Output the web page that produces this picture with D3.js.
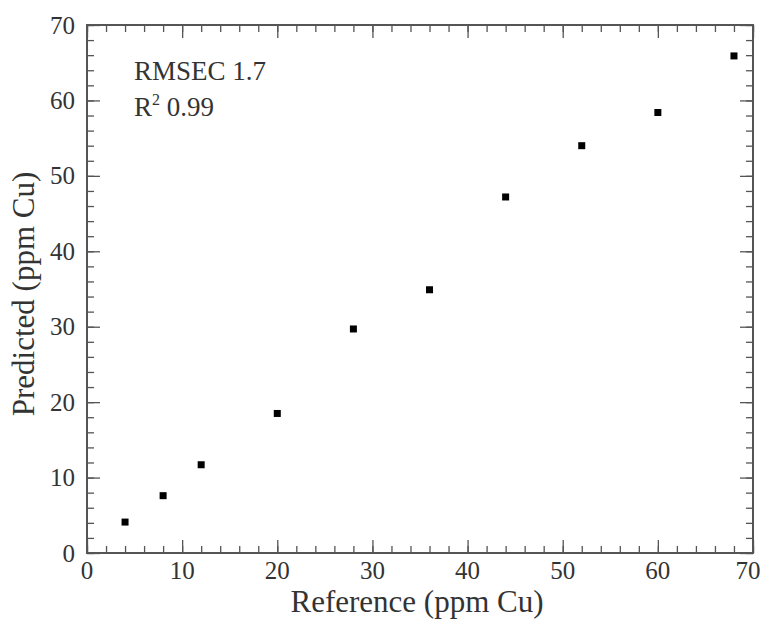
<!DOCTYPE html>
<html>
<head>
<meta charset="utf-8">
<script src="https://cdn.jsdelivr.net/npm/d3@7"></script>
<style>
    body { margin: 0; background: #fff; }
    text { font-family: "Liberation Serif", "Times New Roman", serif; fill: #333; }
</style>
</head>
<body>
<div id="chart"></div>
<script>
    // Dati
    const reference = [4, 8, 12, 20, 28, 36, 44, 52, 60, 68];
    const predicted = [4.1, 7.6, 11.7, 18.5, 29.7, 34.9, 47.2, 54.0, 58.4, 65.9];
    const xTicks = [0, 10, 20, 30, 40, 50, 60, 70];
    const yTicks = [0, 10, 20, 30, 40, 50, 60, 70];
    const statLines = ["RMSEC 1.7", "R2 0.99"];

    const W = 761, H = 621;
    const margin = { top: 25, right: 8, bottom: 68, left: 87 },
        width = W - margin.left - margin.right,
        height = H - margin.top - margin.bottom;

    const svg = d3.select("#chart")
        .append("svg")
        .attr("width", W)
        .attr("height", H);

    const g = svg.append("g")
        .attr("transform", `translate(${margin.left},${margin.top})`);

    const x = d3.scaleLinear().domain([0, 70]).range([0, width]);
    const y = d3.scaleLinear().domain([0, 70]).range([height, 0]);

    const minor = d3.range(0, 71, 2);
    const axisColor = "#555";

    // Tacche interne su tutti e quattro i lati
    function ticks(axis, scale, vals, len) {
        return axis(scale).tickValues(vals).tickSize(-len).tickFormat("");
    }
    const sides = [
        { a: d3.axisBottom, s: x, t: `translate(0,${height})` },
        { a: d3.axisTop, s: x, t: "translate(0,0)" },
        { a: d3.axisLeft, s: y, t: "translate(0,0)" },
        { a: d3.axisRight, s: y, t: `translate(${width},0)` }
    ];
    sides.forEach(function (sd) {
        const gm = g.append("g").attr("transform", sd.t).call(ticks(sd.a, sd.s, minor, 7));
        const gM = g.append("g").attr("transform", sd.t).call(ticks(sd.a, sd.s, xTicks, 13));
        [gm, gM].forEach(function (gg) {
            gg.select(".domain").remove();
            gg.selectAll("line").attr("stroke", axisColor).attr("stroke-width", 1.3);
        });
    });

    // Cornice
    g.append("rect")
        .attr("width", width).attr("height", height)
        .attr("fill", "none")
        .attr("stroke", axisColor)
        .attr("stroke-width", 2);

    // Etichette degli assi (l'ultima a destra resta dentro la finestra)
    g.selectAll(".xl").data(xTicks).join("text")
        .attr("x", d => Math.min(x(d), width - 5))
        .attr("y", height + 26)
        .attr("text-anchor", "middle")
        .style("font-size", "25px")
        .text(d => d);
    g.selectAll(".yl").data(yTicks).join("text")
        .attr("x", -12).attr("y", d => y(d) + 8.5)
        .attr("text-anchor", "end")
        .style("font-size", "25px")
        .text(d => d);

    // Titoli
    svg.append("text")
        .attr("x", 417).attr("y", 612)
        .attr("text-anchor", "middle")
        .style("font-size", "31px")
        .text("Reference (ppm Cu)");
    svg.append("text")
        .attr("transform", "translate(34,294) rotate(-90)")
        .attr("text-anchor", "middle")
        .style("font-size", "31px")
        .text("Predicted (ppm Cu)");

    // Statistiche
    g.append("text")
        .attr("x", 47).attr("y", 55)
        .style("font-size", "27px")
        .text(statLines[0]);
    const r2 = g.append("text")
        .attr("x", 47).attr("y", 91)
        .style("font-size", "27px");
    r2.append("tspan").text("R");
    r2.append("tspan").attr("dy", -11).style("font-size", "16px").text("2");
    r2.append("tspan").attr("dy", 11).text(" " + statLines[1].slice(3));

    // Punti
    const pts = reference.map((d, i) => ({ x: d, y: predicted[i] }));
    g.selectAll("rect.pt").data(pts).join("rect")
        .attr("class", "pt")
        .attr("x", d => x(d.x) - 3.5)
        .attr("y", d => y(d.y) - 3.5)
        .attr("width", 7).attr("height", 7)
        .attr("fill", "#000");
</script>
</body>
</html>
